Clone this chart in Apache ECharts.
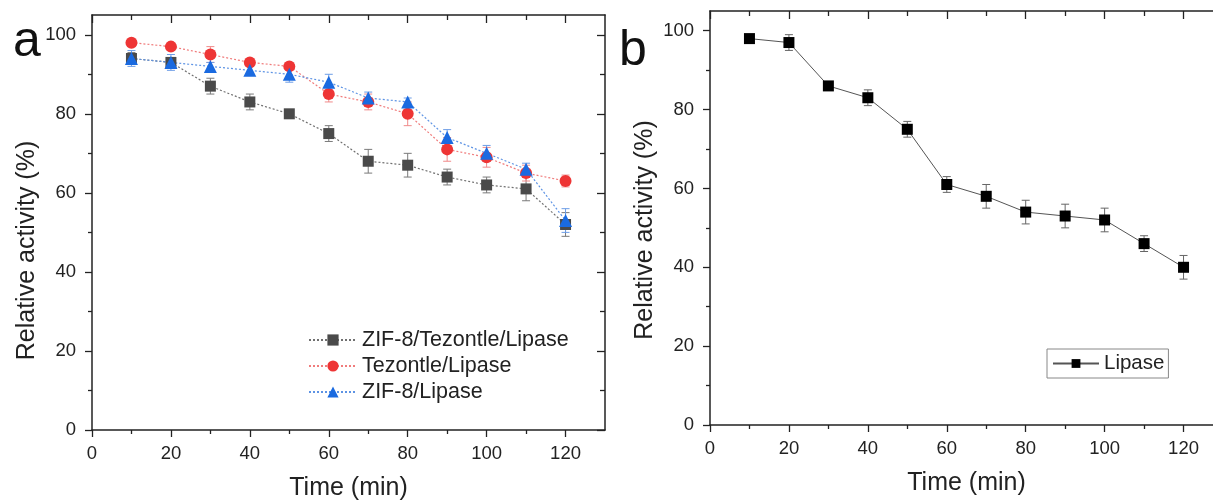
<!DOCTYPE html>
<html>
<head>
<meta charset="utf-8">
<script src="https://cdn.jsdelivr.net/npm/echarts@6/dist/echarts.min.js"></script>
<style>
  html, body { margin: 0; padding: 0; background: #fff; }
  #chart { width: 1213px; height: 500px; }
</style>
</head>
<body>
<div id="chart"></div>
<script>
// Sampling times (min)
const times = [10, 20, 30, 40, 50, 60, 70, 80, 90, 100, 110, 120];

// Panel a: immobilised preparations (relative activity %, with error)
const zifTezLipase    = [94, 93, 87, 83, 80, 75, 68, 67, 64, 62, 61, 52];
const zifTezLipaseErr = [1.5, 1, 2, 2, 0.5, 2, 3, 3, 2, 2, 3, 3];
const tezLipase       = [98, 97, 95, 93, 92, 85, 83, 80, 71, 69, 65, 63];
const tezLipaseErr    = [0.5, 0.5, 2, 0.5, 0.5, 2, 2, 3, 3, 2.5, 2, 1.5];
const zifLipase       = [94, 93, 92, 91, 90, 88, 84, 83, 74, 70, 66, 53];
const zifLipaseErr    = [2, 2, 1, 1, 2, 2, 1.5, 1, 2, 2, 1.5, 3];

// Panel b: free lipase
const freeLipase    = [98, 97, 86, 83, 75, 61, 58, 54, 53, 52, 46, 40];
const freeLipaseErr = [0.5, 2, 0.5, 2, 2, 2, 3, 3, 3, 3, 2, 3];

// Tick values
const xMajor = [0, 20, 40, 60, 80, 100, 120];
const xMinor = [10, 30, 50, 70, 90, 110];
const yMajor = [0, 20, 40, 60, 80, 100];
const yMinor = [10, 30, 50, 70, 90];

const seriesNames = ['ZIF-8/Tezontle/Lipase', 'Tezontle/Lipase', 'ZIF-8/Lipase', 'Lipase'];

const FONT = 'Liberation Sans, Arial, sans-serif';
const AXIS_COLOR = '#222';

function pairs(xs, ys) { return xs.map((x, i) => [x, ys[i]]); }
function errData(xs, ys, es) { return xs.map((x, i) => [x, ys[i] - es[i], ys[i] + es[i]]); }

// One frame = 4 x-axes and 4 y-axes (major/minor ticks on each side)
function makeAxes(grid, yNameShift) {
  const line = { show: true, onZero: false, lineStyle: { color: AXIS_COLOR, width: 1.5 } };
  const noLine = { show: false, onZero: false };
  const tick = (inside, length, vals) => ({ show: true, inside, length, customValues: vals, lineStyle: { color: AXIS_COLOR, width: 1.3 } });
  const label = (vals, margin) => ({ show: true, customValues: vals, color: '#222', fontSize: 18.5, fontFamily: FONT, margin });
  const nameStyle = { fontSize: 25, fontFamily: FONT, color: '#222' };
  const xs = [
    { position: 'bottom', axisLine: line, axisTick: tick(false, 7, xMajor), axisLabel: label(xMajor, 14),
      name: 'Time (min)', nameLocation: 'middle', nameGap: 46, nameTextStyle: nameStyle },
    { position: 'bottom', axisLine: noLine, axisTick: tick(false, 4, xMinor), axisLabel: { show: false } },
    { position: 'top', axisLine: line, axisTick: tick(true, 8, xMajor), axisLabel: { show: false } },
    { position: 'top', axisLine: noLine, axisTick: tick(true, 5, xMinor), axisLabel: { show: false } }
  ].map(a => Object.assign({ type: 'value', gridIndex: grid, min: 0, max: 130, splitLine: { show: false } }, a));
  const ys = [
    { position: 'left', axisLine: line, axisTick: tick(false, 7, yMajor), axisLabel: label(yMajor, 16),
      name: 'Relative activity (%)', nameLocation: 'middle', nameGap: 52,
      nameTextStyle: Object.assign({ padding: [0, yNameShift * 2, 0, 0] }, nameStyle) },
    { position: 'left', axisLine: noLine, axisTick: tick(false, 4, yMinor), axisLabel: { show: false } },
    { position: 'right', axisLine: line, axisTick: tick(true, 8, yMajor), axisLabel: { show: false } },
    { position: 'right', axisLine: noLine, axisTick: tick(true, 5, yMinor), axisLabel: { show: false } }
  ].map(a => Object.assign({ type: 'value', gridIndex: grid, min: 0, max: 105, splitLine: { show: false } }, a));
  return { xs, ys };
}

const axA = makeAxes(0, 28);
const axB = makeAxes(1, 12);

// Vertical error bars with caps, positioned through the axis scales
function errorSeries(name, data, color, xAxisIndex, yAxisIndex) {
  return {
    type: 'custom',
    name: name + ' error',
    xAxisIndex, yAxisIndex,
    data,
    z: 1,
    silent: true,
    encode: { x: 0, y: [1, 2] },
    renderItem: function (params, api) {
      const x = api.value(0);
      const lo = api.coord([x, api.value(1)]);
      const hi = api.coord([x, api.value(2)]);
      const cap = 4;
      const style = { stroke: color, lineWidth: 1 };
      return {
        type: 'group',
        children: [
          { type: 'line', shape: { x1: lo[0], y1: lo[1], x2: hi[0], y2: hi[1] }, style },
          { type: 'line', shape: { x1: lo[0] - cap, y1: lo[1], x2: lo[0] + cap, y2: lo[1] }, style },
          { type: 'line', shape: { x1: hi[0] - cap, y1: hi[1], x2: hi[0] + cap, y2: hi[1] }, style }
        ]
      };
    }
  };
}

function dottedLine(name, data, markerColor, lineColor, symbol, size) {
  return {
    type: 'line', name, data,
    xAxisIndex: 0, yAxisIndex: 0,
    symbol, symbolSize: size,
    itemStyle: { color: markerColor },
    lineStyle: { color: lineColor, width: 1.2, type: [2, 2] },
    z: 3
  };
}

const option = {
  animation: false,
  backgroundColor: '#fff',
  textStyle: { fontFamily: FONT },
  title: [
    { text: 'a', left: 8, top: 12, textStyle: { fontSize: 50, fontWeight: 'normal', color: '#111', fontFamily: FONT } },
    { text: 'b', left: 614, top: 21, textStyle: { fontSize: 50, fontWeight: 'normal', color: '#111', fontFamily: FONT } }
  ],
  grid: [
    { left: 92, top: 15, width: 513, height: 415, outerBoundsMode: 'none', containLabel: false },
    { left: 710, top: 11, width: 513, height: 414, outerBoundsMode: 'none', containLabel: false }
  ],
  xAxis: axA.xs.concat(axB.xs),
  yAxis: axA.ys.concat(axB.ys),
  legend: [
    {
      data: seriesNames.slice(0, 3),
      orient: 'vertical', left: 308, top: 329,
      itemWidth: 48, itemHeight: 14, itemGap: 4,
      textStyle: { fontSize: 21.5, fontFamily: FONT, color: '#222' },
      padding: 0
    },
    {
      data: [seriesNames[3]],
      left: 1047, top: 349,
      itemWidth: 46, itemHeight: 11,
      borderColor: '#888', borderWidth: 1, borderRadius: 0,
      padding: [4, 4, 4, 5],
      textStyle: { fontSize: 20.5, fontFamily: FONT, color: '#222' }
    }
  ],
  series: [
    errorSeries(seriesNames[0], errData(times, zifTezLipase, zifTezLipaseErr), '#7a7a7a', 0, 0),
    errorSeries(seriesNames[1], errData(times, tezLipase, tezLipaseErr), '#f08a8a', 0, 0),
    errorSeries(seriesNames[2], errData(times, zifLipase, zifLipaseErr), '#6d9de6', 0, 0),
    dottedLine(seriesNames[0], pairs(times, zifTezLipase), '#4a4a4a', '#707070', 'rect', 11),
    dottedLine(seriesNames[1], pairs(times, tezLipase), '#ee3535', '#f07c7c', 'circle', 12),
    dottedLine(seriesNames[2], pairs(times, zifLipase), '#1a6ae0', '#5d93e4', 'triangle', 13),
    errorSeries(seriesNames[3], errData(times, freeLipase, freeLipaseErr), '#666', 4, 4),
    {
      type: 'line', name: seriesNames[3],
      data: pairs(times, freeLipase),
      xAxisIndex: 4, yAxisIndex: 4,
      symbol: 'rect', symbolSize: 11,
      itemStyle: { color: '#000' },
      lineStyle: { color: '#555', width: 1 },
      z: 3
    }
  ]
};

const chart = echarts.init(document.getElementById('chart'), null, { renderer: 'canvas' });
chart.setOption(option);
</script>
</body>
</html>
